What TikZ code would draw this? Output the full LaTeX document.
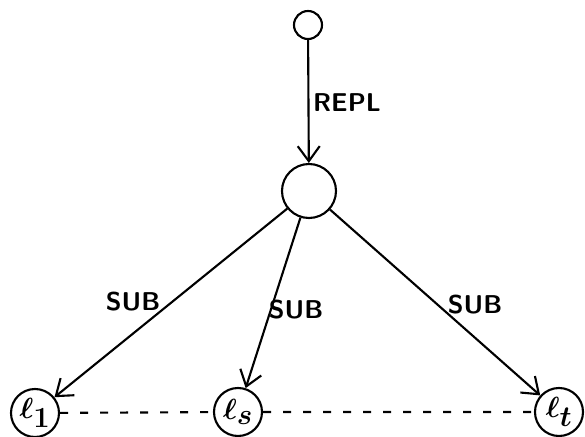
\documentclass[tikz,border=0pt]{standalone}
\usepackage{bm}
\usetikzlibrary{arrows.meta}

\tikzset{
  state/.style={circle,draw,line width=1.8pt,inner sep=0pt},
  loc/.style={state,minimum size=14.4mm,font=\fontsize{34}{36}\selectfont},
  lbl/.style={font=\sffamily\bfseries\fontsize{22}{24}\selectfont},
  arr/.style={line width=1.8pt,-{Straight Barb[length=4.5mm,width=6.6mm,line width=1.8pt]}},
}

\begin{document}
\begin{tikzpicture}[x=0.3mm,y=-0.3mm]
\useasboundingbox (0,0) rectangle (585,437);

% states
\node[state,minimum size=8.4mm] (top) at (308,25) {};
\node[state,minimum size=16.2mm] (mid) at (309,191) {};
\node[loc] (l1) at (35,413) {$\bm{\ell}_{\bm{1}}$};
\node[loc] (ls) at (238,412) {$\bm{\ell}_{\bm{s}}$};
\node[loc] (lt) at (559,412) {$\bm{\ell}_{\bm{t}}$};

% transitions
\draw[arr] (top) -- (mid);
\draw[arr] (mid) -- (l1);
\draw[arr] (mid) -- (ls);
\draw[arr] (mid) -- (lt);
\draw[line width=1.8pt,dash pattern=on 2.4mm off 3.6mm] (l1) -- (ls) -- (lt);

% labels
\node[lbl] (repl) at (347,103) {REPL};
\node[lbl] (sub1) at (133,302) {SUB};
\node[lbl] (sub2) at (296,310) {SUB};
\node[lbl] (sub3) at (475,305) {SUB};

\end{tikzpicture}
\end{document}
